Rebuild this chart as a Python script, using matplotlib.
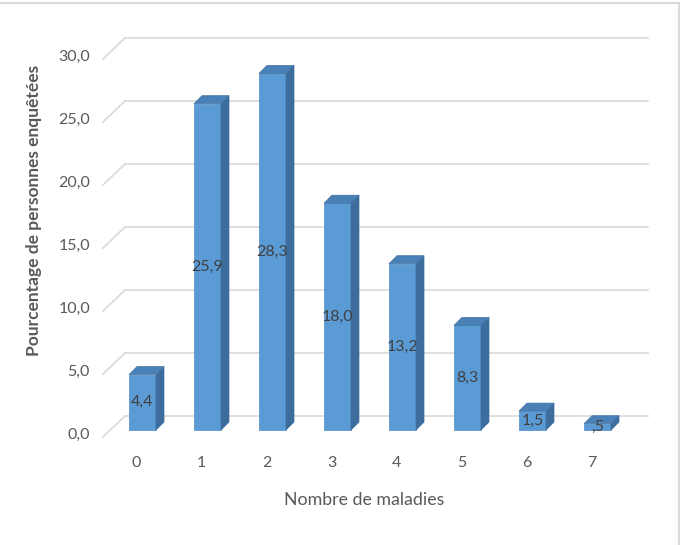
import matplotlib.pyplot as plt
from matplotlib.patches import Polygon

# données
categories = ['0', '1', '2', '3', '4', '5', '6', '7']
valeurs = [4.4, 25.9, 28.3, 18.0, 13.2, 8.3, 1.5, 0.5]
etiquettes = ['4,4', '25,9', '28,3', '18,0', '13,2', '8,3', '1,5', ',5']
graduations = [0, 5, 10, 15, 20, 25, 30]
grad_labels = ['0,0', '5,0', '10,0', '15,0', '20,0', '25,0', '30,0']

plt.rcParams['font.family'] = ['Lato', 'DejaVu Sans']

# echelle en pixels
PX_X = 65.0    # pixels par categorie
PX_Y = 12.6    # pixels par unite
X0 = 142.5     # centre de la barre 0
Y0 = 430.0     # sol (face avant des barres)
W, H = 682, 545

def px(x):
    return (x - X0) / PX_X

def py(y):
    return (Y0 - y) / PX_Y

fig = plt.figure(figsize=(W / 100, H / 100), dpi=100)
ax = fig.add_axes([0, 0, 1, 1])
ax.set_xlim(px(0), px(W))
ax.set_ylim(py(H), py(0))
ax.axis('off')

gris = '#d9d9d9'
bw = 27 / PX_X         # largeur face avant
ddx = 8 / PX_X         # profondeur des barres
ddy = 8 / PX_Y

# grille (mur du fond + diagonales)
for g in graduations:
    yb = g + 14 / PX_Y
    ax.plot([px(125), px(648)], [yb, yb], color=gris, lw=1.2, zorder=1)
    ax.plot([px(103), px(125)], [g - 7 / PX_Y, yb], color=gris, lw=1.2, zorder=1)

for g, lab in zip(graduations, grad_labels):
    ax.text(px(90), g - 5 / PX_Y, lab, ha='right', va='center',
            fontsize=11.5, color='#595959')

# barres 3D
xs = list(range(len(valeurs)))
ax.bar(xs, valeurs, width=bw, color='#5b9bd5', edgecolor='#4f8cc6', lw=0.5, zorder=3)
for x, v in zip(xs, valeurs):
    r = x + bw / 2
    l = x - bw / 2
    side = Polygon([(r, 0), (r + ddx, ddy), (r + ddx, v + ddy), (r, v)],
                   closed=True, facecolor='#3d6d9c', edgecolor='#3d6d9c', lw=0.5, zorder=3)
    top = Polygon([(l, v), (r, v), (r + ddx, v + ddy), (l + ddx, v + ddy)],
                  closed=True, facecolor='#4a80b8', edgecolor='#44739f', lw=0.5, zorder=3)
    ax.add_patch(side)
    ax.add_patch(top)

for x, v, lab in zip(xs, valeurs, etiquettes):
    ax.text(x, v / 2, lab, ha='center', va='center', fontsize=11.5,
            color='#404040', zorder=4)

for x, c in zip(xs, categories):
    ax.text(x - 6 / PX_X, py(463), c, ha='center', va='center',
            fontsize=11.5, color='#595959')

ax.text(px(364), py(500), 'Nombre de maladies', ha='center', va='center',
        fontsize=12.8, color='#595959')
ax.text(px(34), py(210), 'Pourcentage de personnes enquêtées', ha='center',
        va='center', rotation=90, fontsize=12.5, fontweight='bold', color='#595959')

# cadre
ax.plot([px(0), px(679)], [py(3), py(3)], color=gris, lw=1.5, clip_on=False)
ax.plot([px(679), px(679)], [py(3), py(H)], color=gris, lw=1.5, clip_on=False)

fig.savefig('out.png', dpi=100)
